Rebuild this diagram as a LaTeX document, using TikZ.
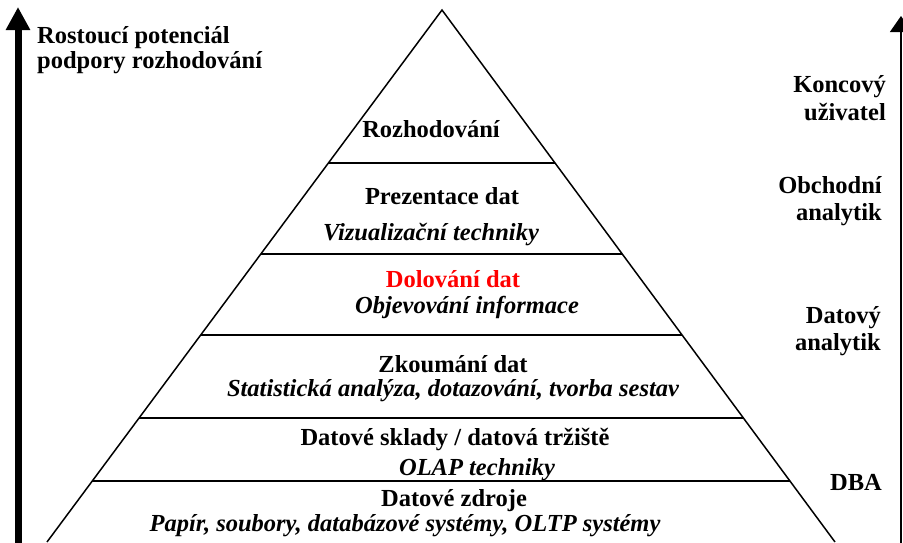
\documentclass[tikz,border=0pt]{standalone}
\usepackage{fontspec}
\setmainfont{Liberation Serif}
\usetikzlibrary{arrows.meta,calc}
\tikzset{
  lbl/.style={font=\fontsize{24.5}{25}\selectfont\bfseries, inner sep=0pt, anchor=base},
  sub/.style={lbl, font=\fontsize{24.5}{25}\selectfont\bfseries\itshape},
  role/.style={lbl, anchor=base east, align=right},
  edge/.style={line width=1.5pt},
  tier/.style={line width=2.8pt},
}
\definecolor{mined}{RGB}{255,0,0}
\begin{document}
\begin{tikzpicture}[x=1pt,y=-1pt]
\useasboundingbox (0,0) rectangle (903,542);
\begin{scope}
\clip (0,0) rectangle (903,542);
% pyramid
\coordinate (apex) at (442,10);
\coordinate (bl) at (47,542);
\coordinate (br) at (835,542);
\draw[edge] (bl) -- (apex) -- (br);
\foreach \t/\n in {0.2876/a,0.4586/b,0.6109/c,0.7669/d,0.8853/e}{
  \coordinate (L\n) at ($(apex)!\t!(bl)$);
  \coordinate (R\n) at ($(apex)!\t!(br)$);
  \draw[tier] (L\n) -- (R\n);
}
% arrows
\coordinate (lbot) at (18,545);
\coordinate (ltop) at (18,7);
\draw[line width=7pt,-{Triangle[length=23pt,width=23pt]}] (lbot) -- (ltop);
\coordinate (rbot) at (901,545);
\coordinate (rtop) at (901,16);
\draw[line width=1.5pt,-{Triangle[length=16pt,width=22pt]}] (rbot) -- (rtop);
\end{scope}
% left text
\node[lbl, anchor=base west] (pot1) at (37,43) {Rostoucí potenciál};
\node[lbl, anchor=base west] (pot2) at (37,68) {podpory rozhodování};
% tiers
\node[lbl] (t1) at (431,137) {Rozhodování};
\node[lbl] (t2) at (442,204) {Prezentace dat};
\node[sub] (t2s) at (431,240) {Vizualizační techniky};
\node[lbl, text=mined] (t3) at (453,287) {Dolování dat};
\node[sub] (t3s) at (467,313) {Objevování informace};
\node[lbl] (t4) at (453,372) {Zkoumání dat};
\node[sub] (t4s) at (453,396) {Statistická analýza, dotazování, tvorba sestav};
\node[lbl] (t5) at (455,445) {Datové sklady / datová tržiště};
\node[sub] (t5s) at (477,475) {OLAP techniky};
\node[lbl] (t6) at (454,506) {Datové zdroje};
\node[sub] (t6s) at (405,531) {Papír, soubory, databázové systémy, OLTP systémy};
% roles
\node[role] (r1a) at (886,92) {Koncový};
\node[role] (r1b) at (886,120) {uživatel};
\node[role] (r2a) at (882,193) {Obchodní};
\node[role] (r2b) at (882,220) {analytik};
\node[role] (r3a) at (881,323) {Datový};
\node[role] (r3b) at (881,350) {analytik};
\node[role] (r4) at (882,490) {DBA};
\end{tikzpicture}
\end{document}
